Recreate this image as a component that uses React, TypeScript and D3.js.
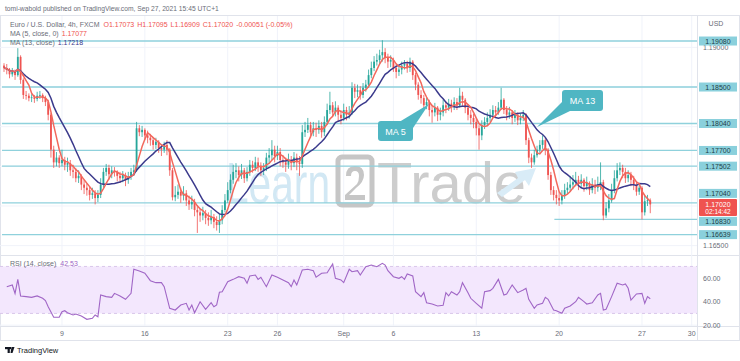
import React from 'react';
import * as d3 from 'd3';

// EUR/USD 4h (FXCM), candles, oldest first
const firstOpen = 1.1877;
const closes = [
  1.1874, 1.1872, 1.1866, 1.1869, 1.1865, 1.1888, 1.1859, 1.1840, 1.1839, 1.1836,
  1.1837, 1.1835, 1.1839, 1.1840, 1.1836, 1.1831, 1.1815, 1.1771, 1.1755, 1.1761,
  1.1754, 1.1758, 1.1752, 1.1754, 1.1745, 1.1743, 1.1735, 1.1738, 1.1727, 1.1723,
  1.1720, 1.1714, 1.1716, 1.1710, 1.1714, 1.1727, 1.1743, 1.1748, 1.1740, 1.1745,
  1.1743, 1.1738, 1.1735, 1.1739, 1.1733, 1.1737, 1.1743, 1.1745, 1.1798, 1.1793,
  1.1796, 1.1789, 1.1786, 1.1783, 1.1777, 1.1781, 1.1773, 1.1771, 1.1777, 1.1771,
  1.1745, 1.1711, 1.1714, 1.1718, 1.1713, 1.1716, 1.1707, 1.1702, 1.1705, 1.1695,
  1.1692, 1.1688, 1.1691, 1.1685, 1.1682, 1.1686, 1.1680, 1.1676, 1.1682, 1.1695,
  1.1707, 1.1720, 1.1733, 1.1743, 1.1745, 1.1739, 1.1745, 1.1735, 1.1743, 1.1752,
  1.1748, 1.1755, 1.1750, 1.1745, 1.1748, 1.1761, 1.1764, 1.1771, 1.1763, 1.1768,
  1.1758, 1.1755, 1.1752, 1.1758, 1.1754, 1.1761, 1.1755, 1.1753, 1.1793, 1.1796,
  1.1802, 1.1793, 1.1798, 1.1796, 1.1801, 1.1793, 1.1806, 1.1821, 1.1827, 1.1818,
  1.1824, 1.1815, 1.1811, 1.1821, 1.1815, 1.1818, 1.1849, 1.1844, 1.1846, 1.1840,
  1.1849, 1.1853, 1.1865, 1.1874, 1.1882, 1.1884, 1.1890, 1.1894, 1.1887, 1.1882,
  1.1884, 1.1874, 1.1869, 1.1872, 1.1877, 1.1879, 1.1874, 1.1882, 1.1865, 1.1853,
  1.1840, 1.1836, 1.1827, 1.1831, 1.1821, 1.1818, 1.1824, 1.1815, 1.1818, 1.1827,
  1.1824, 1.1829, 1.1826, 1.1831, 1.1827, 1.1839, 1.1834, 1.1824, 1.1815, 1.1811,
  1.1806, 1.1798, 1.1789, 1.1802, 1.1806, 1.1811, 1.1815, 1.1821, 1.1818, 1.1824,
  1.1834, 1.1821, 1.1815, 1.1818, 1.1811, 1.1815, 1.1808, 1.1811, 1.1815, 1.1783,
  1.1761, 1.1755, 1.1764, 1.1771, 1.1777, 1.1783, 1.1771, 1.1739, 1.1720, 1.1714,
  1.1710, 1.1707, 1.1714, 1.1720, 1.1723, 1.1727, 1.1730, 1.1733, 1.1728, 1.1733,
  1.1725, 1.1729, 1.1720, 1.1727, 1.1723, 1.1727, 1.1730, 1.1688, 1.1697, 1.1707,
  1.1720, 1.1735, 1.1745, 1.1748, 1.1743, 1.1735, 1.1739, 1.1733, 1.1727, 1.1718,
  1.1723, 1.1692, 1.1706, 1.17071, 1.1702,
];
const highs = [
  1.1880, 1.1879, 1.1874, 1.1874, 1.1872, 1.1899, 1.1890, 1.1861, 1.1845, 1.1842,
  1.1841, 1.1840, 1.1844, 1.1845, 1.1842, 1.1839, 1.1834, 1.1817, 1.1776, 1.1768,
  1.1764, 1.1771, 1.1762, 1.1761, 1.1758, 1.1752, 1.1748, 1.1745, 1.1740, 1.1733,
  1.1728, 1.1725, 1.1723, 1.1720, 1.1720, 1.1735, 1.1748, 1.1753, 1.1752, 1.1750,
  1.1749, 1.1745, 1.1743, 1.1744, 1.1742, 1.1743, 1.1748, 1.1752, 1.1806, 1.1802,
  1.1801, 1.1798, 1.1795, 1.1791, 1.1787, 1.1786, 1.1783, 1.1778, 1.1781, 1.1783,
  1.1773, 1.1748, 1.1725, 1.1727, 1.1723, 1.1725, 1.1720, 1.1713, 1.1713, 1.1709,
  1.1701, 1.1697, 1.1699, 1.1695, 1.1692, 1.1695, 1.1690, 1.1687, 1.1690, 1.1701,
  1.1715, 1.1730, 1.1740, 1.1752, 1.1754, 1.1750, 1.1753, 1.1748, 1.1749, 1.1758,
  1.1757, 1.1762, 1.1761, 1.1755, 1.1754, 1.1767, 1.1773, 1.1783, 1.1776, 1.1776,
  1.1773, 1.1764, 1.1761, 1.1766, 1.1763, 1.1768, 1.1766, 1.1763, 1.1802, 1.1806,
  1.1811, 1.1806, 1.1806, 1.1805, 1.1808, 1.1806, 1.1813, 1.1829, 1.1844, 1.1831,
  1.1832, 1.1827, 1.1821, 1.1829, 1.1825, 1.1826, 1.1856, 1.1854, 1.1853, 1.1851,
  1.1855, 1.1859, 1.1872, 1.1882, 1.1889, 1.1892, 1.1897, 1.1909, 1.1899, 1.1892,
  1.1890, 1.1887, 1.1879, 1.1878, 1.1882, 1.1884, 1.1883, 1.1887, 1.1884, 1.1868,
  1.1856, 1.1846, 1.1840, 1.1837, 1.1834, 1.1827, 1.1830, 1.1826, 1.1824, 1.1834,
  1.1832, 1.1835, 1.1834, 1.1837, 1.1836, 1.1849, 1.1844, 1.1836, 1.1827, 1.1821,
  1.1816, 1.1810, 1.1802, 1.1808, 1.1812, 1.1818, 1.1822, 1.1827, 1.1826, 1.1831,
  1.1849, 1.1836, 1.1826, 1.1825, 1.1821, 1.1821, 1.1818, 1.1817, 1.1821, 1.1817,
  1.1786, 1.1766, 1.1771, 1.1776, 1.1783, 1.1789, 1.1786, 1.1773, 1.1743, 1.1725,
  1.1720, 1.1718, 1.1720, 1.1728, 1.1730, 1.1738, 1.1739, 1.1743, 1.1738, 1.1740,
  1.1735, 1.1737, 1.1731, 1.1735, 1.1733, 1.1737, 1.1755, 1.1733, 1.1705, 1.1715,
  1.1728, 1.1745, 1.1754, 1.1755, 1.1752, 1.1748, 1.1745, 1.1743, 1.1738, 1.1730,
  1.1729, 1.1725, 1.1713, 1.1714, 1.17095,
];
const lows = [
  1.1869, 1.1866, 1.1861, 1.1863, 1.1859, 1.1863, 1.1854, 1.1835, 1.1834, 1.1832,
  1.1831, 1.1830, 1.1832, 1.1835, 1.1831, 1.1826, 1.1808, 1.1761, 1.1748, 1.1750,
  1.1748, 1.1750, 1.1745, 1.1743, 1.1738, 1.1735, 1.1730, 1.1729, 1.1720, 1.1715,
  1.1713, 1.1707, 1.1709, 1.1702, 1.1705, 1.1710, 1.1723, 1.1738, 1.1733, 1.1735,
  1.1737, 1.1731, 1.1729, 1.1730, 1.1725, 1.1728, 1.1733, 1.1738, 1.1743, 1.1788,
  1.1787, 1.1783, 1.1779, 1.1776, 1.1771, 1.1772, 1.1767, 1.1763, 1.1767, 1.1764,
  1.1738, 1.1707, 1.1706, 1.1709, 1.1704, 1.1707, 1.1700, 1.1695, 1.1696, 1.1687,
  1.1666, 1.1680, 1.1682, 1.1677, 1.1675, 1.1677, 1.1672, 1.1669, 1.1666, 1.1677,
  1.1692, 1.1704, 1.1716, 1.1728, 1.1735, 1.1731, 1.1734, 1.1729, 1.1731, 1.1738,
  1.1742, 1.1744, 1.1743, 1.1738, 1.1739, 1.1744, 1.1754, 1.1758, 1.1755, 1.1758,
  1.1750, 1.1748, 1.1743, 1.1747, 1.1745, 1.1749, 1.1745, 1.1738, 1.1748, 1.1787,
  1.1792, 1.1786, 1.1788, 1.1787, 1.1791, 1.1786, 1.1788, 1.1802, 1.1816, 1.1812,
  1.1813, 1.1807, 1.1803, 1.1807, 1.1808, 1.1810, 1.1815, 1.1836, 1.1837, 1.1834,
  1.1836, 1.1844, 1.1849, 1.1861, 1.1870, 1.1877, 1.1879, 1.1882, 1.1880, 1.1874,
  1.1875, 1.1869, 1.1861, 1.1864, 1.1866, 1.1872, 1.1868, 1.1869, 1.1859, 1.1846,
  1.1834, 1.1829, 1.1821, 1.1822, 1.1813, 1.1805, 1.1813, 1.1807, 1.1808, 1.1813,
  1.1817, 1.1820, 1.1818, 1.1821, 1.1821, 1.1824, 1.1826, 1.1817, 1.1808, 1.1803,
  1.1798, 1.1789, 1.1771, 1.1783, 1.1797, 1.1801, 1.1806, 1.1811, 1.1812, 1.1815,
  1.1821, 1.1816, 1.1808, 1.1810, 1.1803, 1.1806, 1.1802, 1.1803, 1.1807, 1.1777,
  1.1754, 1.1748, 1.1752, 1.1761, 1.1767, 1.1772, 1.1764, 1.1733, 1.1714, 1.1707,
  1.1702, 1.1700, 1.1702, 1.1709, 1.1715, 1.1718, 1.1721, 1.1725, 1.1720, 1.1724,
  1.1718, 1.1720, 1.1714, 1.1716, 1.1715, 1.1718, 1.1720, 1.1682, 1.1685, 1.1692,
  1.1704, 1.1716, 1.1731, 1.1739, 1.1735, 1.1729, 1.1730, 1.1725, 1.1720, 1.1713,
  1.1714, 1.1683, 1.1688, 1.1700, 1.16909,
];

// RSI(14): [candle, value]
const rsiPoints = [
  [1, 52.8], [3, 54.2], [4, 47], [5, 59], [6, 44.9], [8, 44.3], [10, 43.7], [12, 44.9], [14, 42.9], [15, 40.9],
  [16, 35.7], [18, 26.7], [20, 26.7], [21, 31.5], [22, 32.3], [23, 30.6], [25, 28.7], [26, 29.5], [28, 27.8], [30, 25],
  [32, 25.8], [33, 28.7], [34, 27.2], [35, 45.7], [37, 44.3], [39, 43.7], [40, 47.1], [42, 44.9], [44, 42], [46, 47.1],
  [47, 67.6], [49, 66.1], [51, 64.2], [53, 57.9], [55, 56.2], [57, 56.2], [58, 52.8], [60, 34.4], [62, 32.9], [64, 37.2],
  [66, 38.6], [67, 32.9], [68, 37.2], [69, 30.6], [71, 40], [73, 33.5], [75, 39.1], [76, 35.7], [77, 37.2], [78, 48],
  [79, 48.5], [81, 57], [83, 59], [85, 61.3], [87, 59.9], [88, 55.7], [89, 61.9], [91, 62.7], [92, 59], [93, 60.8],
  [95, 52.8], [97, 62.7], [99, 60.8], [101, 58.5], [103, 56.2], [104, 52.8], [105, 58.5], [106, 54.2], [108, 67], [110, 67.6],
  [112, 66.4], [113, 60.8], [115, 64.2], [117, 64.7], [119, 72.1], [120, 59.9], [122, 58.5], [123, 56.2], [125, 67.6], [126, 65.5],
  [128, 66.4], [129, 62.7], [131, 69.8], [133, 71.2], [135, 69.8], [137, 72.7], [138, 71.2], [139, 66.4], [141, 61.3], [143, 59.9],
  [144, 61.3], [145, 59], [146, 63.6], [148, 61.9], [149, 48.5], [151, 44.3], [152, 47.7], [153, 39.1], [155, 38], [157, 36.3],
  [159, 36.9], [160, 47.7], [161, 44.9], [162, 48.5], [164, 45.7], [165, 48.5], [166, 56.2], [168, 47.7], [169, 42.9], [171, 38.6],
  [173, 34.4], [174, 48.5], [176, 49.4], [177, 51.4], [179, 59], [181, 45.7], [182, 46.6], [184, 54.2], [186, 47.7], [188, 50],
  [189, 51.4], [190, 42], [192, 34.4], [193, 37.2], [195, 38.6], [196, 43.7], [197, 42], [199, 32.9], [200, 32.3], [202, 30.1],
  [203, 34.4], [205, 36.3], [207, 40], [208, 43.7], [210, 40], [211, 38], [213, 39.1], [215, 45.7], [216, 47.1], [217, 32.9],
  [218, 33.5], [220, 44.3], [222, 55.7], [224, 54.2], [225, 55.1], [226, 51.4], [227, 41.4], [229, 46.6], [231, 47.1], [232, 38.6],
  [233, 44.3], [234, 42.53],
];

const timeLabels = ['9', '16', '23', '26', 'Sep', '6', '13', '20', '27', '30'];
const timeCandles = [21, 51, 81, 99, 123, 141, 171, 201, 231, 249];

const levelPrices = [1.1908, 1.185, 1.1804, 1.177, 1.17502, 1.1704, 1.1683, 1.16639];
const levelText = ['1.19080', '1.18500', '1.18040', '1.17700', '1.17502', '1.17040', '1.16830', '1.16639'];
const levelFrom = [0, 0, 0, 0, 0, 0, 200, 0];

const priceTicks = [1.165, 1.17, 1.175, 1.18, 1.185, 1.19];
const rsiTicks = [20, 40, 60];

const UP = '#26a69a';
const DOWN = '#ef5350';
const GRID = '#f0f3fa';
const BORDER = '#e0e3eb';
const TXT = '#6a6d78';
const FONT = '"Liberation Sans", Arial, sans-serif';

const App = () => {
  const x = d3.scaleLinear().domain([0, 249]).range([4, 691.7]);
  const y = d3.scaleLinear().domain([1.16382, 1.19408]).range([255, 15]);
  const yr = d3.scaleLinear().domain([19.3, 78.9]).range([326, 256]);
  const plotRight = 697;

  const opens = closes.map((c, i) => (i === 0 ? firstOpen : closes[i - 1]));
  const movingAvg = (len: number) =>
    closes.map((_, i) => d3.mean(closes.slice(Math.max(0, i - len + 1), i + 1)) as number);
  const ma5 = movingAvg(5);
  const ma13 = movingAvg(13);
  const last = closes.length - 1;

  const priceLine = d3.line<number>().x((_, i) => x(i)).y(d => y(d));
  const rsiLine = d3.line<number[]>().x(d => x(d[0])).y(d => yr(d[1]));

  // current price tag and the level tags pushed off it
  const curY = y(closes[last]);
  const curTop = curY - 5.5;
  const curBottom = curTop + 17;
  const tagY = levelPrices.map(p => {
    const ly = y(p);
    if (ly > curTop - 5.5 && ly < curBottom + 5.5) return ly < curY ? curTop - 5.5 : curBottom + 5.5;
    return ly;
  });
  const axisTicks = priceTicks.filter(p => {
    const ty = y(p);
    if (ty > curTop - 3 && ty < curBottom + 3) return false;
    return tagY.every(t => Math.abs(t - ty) > 5.5);
  });

  const bodyW = 1.8;

  return (
    <svg width={740} height={361} style={{ position: 'absolute', left: 0, top: 0, fontFamily: FONT }}>
      <defs>
        <clipPath id="main"><rect x={0} y={15} width={plotRight} height={240} /></clipPath>
        <clipPath id="rsi"><rect x={0} y={256} width={plotRight} height={70} /></clipPath>
      </defs>
      <rect width={740} height={361} fill="#fff" />

      <text x={5} y={11} fontSize={6.7} fill={TXT}>tomi-wabold published on TradingView.com, Sep 27, 2021 15:45 UTC+1</text>

      {/* frame and pane separators */}
      <rect x={0.5} y={15.5} width={739} height={325} fill="none" stroke={BORDER} />
      <line x1={0} x2={740} y1={255.5} y2={255.5} stroke={BORDER} />
      <line x1={0} x2={740} y1={326.5} y2={326.5} stroke={BORDER} />
      <line x1={plotRight + 0.5} x2={plotRight + 0.5} y1={15} y2={341} stroke={BORDER} />

      {/* grid */}
      {timeCandles.map((c, i) => (
        <line key={'vg' + i} x1={x(c)} x2={x(c)} y1={16} y2={326} stroke={GRID} />
      ))}
      {priceTicks.map(p => (
        <line key={'hg' + p} x1={0} x2={plotRight} y1={y(p)} y2={y(p)} stroke={GRID} />
      ))}

      {/* Learn2Trade watermark */}
      <g>
        <text x={226} y={203} fontSize={57} fill="#d2e8f4" textLength={104} lengthAdjust="spacingAndGlyphs">Learn</text>
        <rect x={338} y={157} width={34} height={48} rx={4} fill="none" stroke="#c6c6c6" strokeWidth={5} />
        <path d="M346,176 Q346,166 355,166 Q364,166 364,175 Q364,182 356,188 L349,195 L365,195 L365,200 L345,200 L345,195 L357,184 Q359,181 359,176 Q359,171 355,171 Q351,171 351,176 Z" fill="#c6c6c6" />
        <text x={377} y={203} fontSize={57} fill="#cdcdcd" textLength={149} lengthAdjust="spacingAndGlyphs">Trade</text>
        <path d="M497,193 L518,178 L515,172 L536,168 L529,186 L525,180 L502,197 Z" fill="#d9ecf7" />
      </g>

      {/* horizontal levels */}
      {levelPrices.map((p, i) => (
        <line key={'lv' + i} x1={x(levelFrom[i]) - 2} x2={plotRight} y1={y(p)} y2={y(p)} stroke="#8fd1dc" strokeWidth={1.3} />
      ))}

      {/* candles */}
      <g clipPath="url(#main)">
        {closes.map((c, i) => {
          const o = opens[i];
          const color = c >= o ? UP : DOWN;
          const hi = Math.max(highs[i], o, c);
          const lo = Math.min(lows[i], o, c);
          const top = y(Math.max(o, c));
          const h = Math.max(0.8, y(Math.min(o, c)) - top);
          return (
            <g key={'c' + i}>
              <line x1={x(i)} x2={x(i)} y1={y(hi)} y2={y(lo)} stroke={color} strokeWidth={0.8} />
              <rect x={x(i) - bodyW / 2} y={top} width={bodyW} height={h} fill={color} />
            </g>
          );
        })}
        <path d={priceLine(ma13) || ''} fill="none" stroke="#3b3a8c" strokeWidth={1.5} />
        <path d={priceLine(ma5) || ''} fill="none" stroke="#f2685c" strokeWidth={1.5} />
      </g>

      {/* callouts */}
      <g>
        <path d="M400,121.5 L429,104 L413,128 Z" fill="#4fb6c3" />
        <rect x={378} y={121} width={35} height={20} rx={3} fill="#4fb6c3" />
        <text x={395.5} y={134.5} fontSize={9} fill="#fff" textAnchor="middle">MA 5</text>
        <path d="M562,102 L537,127 L571,110.5 Z" fill="#4fb6c3" />
        <rect x={562} y={90} width={41} height={21} rx={3} fill="#4fb6c3" />
        <text x={582.5} y={104} fontSize={9} fill="#fff" textAnchor="middle">MA 13</text>
      </g>

      {/* legend */}
      <text x={10} y={26.5} fontSize={7} fill={TXT}>
        Euro / U.S. Dollar, 4h, FXCM
        <tspan fill={DOWN} dx={4}>O1.17073</tspan>
        <tspan fill={DOWN} dx={3}>H1.17095</tspan>
        <tspan fill={DOWN} dx={3}>L1.16909</tspan>
        <tspan fill={DOWN} dx={3}>C1.17020</tspan>
        <tspan fill={DOWN} dx={3}>-0.00051 (-0.05%)</tspan>
      </text>
      <text x={10} y={36} fontSize={7} fill={TXT}>
        MA (5, close, 0)
        <tspan fill={DOWN} dx={3}>1.17077</tspan>
      </text>
      <text x={10} y={45} fontSize={7} fill={TXT}>
        MA (13, close)
        <tspan fill="#3b3a8c" dx={3}>1.17218</tspan>
      </text>

      {/* price axis */}
      <text x={716} y={26} fontSize={7} fill={TXT} textAnchor="middle">USD</text>
      {axisTicks.map(p => (
        <text key={'pt' + p} x={703} y={y(p) + 2.5} fontSize={7} fill={TXT}>{p.toFixed(5)}</text>
      ))}
      {levelPrices.map((p, i) => (
        <g key={'tag' + i}>
          <rect x={699} y={tagY[i] - 4.5} width={38} height={9} fill="#8ad0dc" />
          <text x={718} y={tagY[i] + 2.5} fontSize={7} fill="#1f3f47" textAnchor="middle">{levelText[i]}</text>
        </g>
      ))}
      <rect x={699} y={curTop} width={38} height={17} rx={1} fill={DOWN} />
      <text x={718} y={curY + 2.5} fontSize={7} fill="#fff" textAnchor="middle">{closes[last].toFixed(5)}</text>
      <text x={718} y={curY + 9.5} fontSize={6.5} fill="#fff" textAnchor="middle">02:14:42</text>

      {/* RSI pane */}
      <g clipPath="url(#rsi)">
        {rsiTicks.map(v => (
          <line key={'rg' + v} x1={0} x2={plotRight} y1={yr(v)} y2={yr(v)} stroke={GRID} />
        ))}
        <rect x={0} y={yr(70)} width={plotRight} height={yr(30) - yr(70)} fill="#f3e7fd" />
        <line x1={0} x2={plotRight} y1={yr(70)} y2={yr(70)} stroke="#d9c6ea" strokeDasharray="3 3" />
        <line x1={0} x2={plotRight} y1={yr(30)} y2={yr(30)} stroke="#d9c6ea" strokeDasharray="3 3" />
        <path d={rsiLine(rsiPoints) || ''} fill="none" stroke="#a066c6" strokeWidth={1.1} />
      </g>
      <text x={10} y={266} fontSize={7} fill={TXT}>
        RSI (14, close)
        <tspan fill="#a066c6" dx={4}>42.53</tspan>
      </text>
      {rsiTicks.map(v => (
        <text key={'rt' + v} x={703} y={yr(v) + 2.5} fontSize={7} fill={TXT}>{v.toFixed(2)}</text>
      ))}

      {/* time axis */}
      {timeLabels.map((t, i) => (
        <text key={'tl' + i} x={x(timeCandles[i])} y={336} fontSize={7} fill={TXT} textAnchor="middle">{t}</text>
      ))}

      {/* TradingView mark */}
      <g fill="#131722">
        <rect x={5} y={347} width={6} height={2.2} />
        <rect x={7.6} y={347} width={2.2} height={6} />
        <path d="M11.5,347 L14.5,347 L12.5,353 L10.5,353 Z" />
      </g>
      <text x={17} y={353} fontSize={7.5} fill="#131722">TradingView</text>
    </svg>
  );
};

export default App;
